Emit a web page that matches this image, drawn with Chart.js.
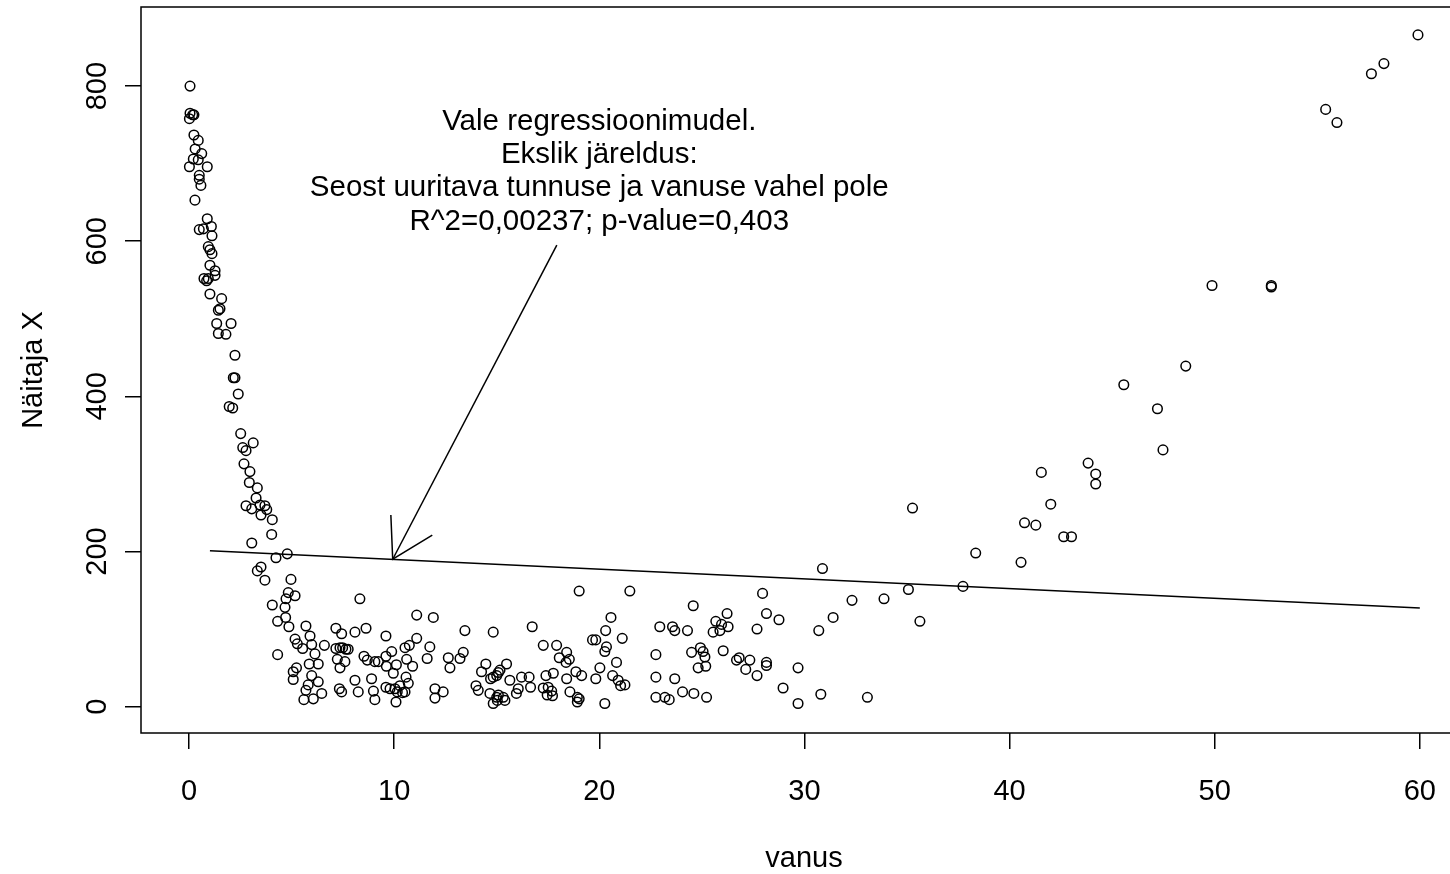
<!DOCTYPE html>
<html>
<head>
<meta charset="utf-8">
<script src="https://cdn.jsdelivr.net/npm/chart.js@4"></script>
<style>
  html, body { margin: 0; padding: 0; background: #fff; overflow: hidden; }
  #wrap { width: 1450px; height: 874px; overflow: hidden; }
</style>
</head>
<body>
<div id="wrap"><canvas id="myChart" width="1480" height="874"></canvas></div>
<script>
// vanus (age) and Näitaja X
const ages = [
  0.05, 0.05, 0.18, 0.02, 0.24, 0.24, 0.45, 0.30, 0.62, 0.21, 0.45, 0.02, 0.89,
  0.50, 0.50, 0.58, 0.29, 0.89, 0.50, 0.70, 1.09, 1.12, 0.94, 1.02, 1.12, 1.02,
  1.27, 1.27, 0.73, 0.86, 0.94, 1.02, 1.59, 1.51, 1.43, 1.35, 2.05, 1.43, 1.80,
  2.24, 2.16, 2.24, 2.40,
  1.96, 2.13, 2.52, 2.62, 2.78, 3.13, 2.68, 2.97, 2.94, 3.33, 3.27, 2.78, 3.06,
  3.46, 3.70, 3.79, 3.51, 4.06, 4.03, 3.06, 4.24, 4.79, 3.51, 3.33, 3.70, 4.97,
  4.84, 5.17, 4.73, 4.68, 4.06, 4.71, 4.32, 4.87, 5.70, 5.17, 5.28, 5.54, 5.90,
  5.98, 6.14, 4.32, 5.86, 6.30, 5.24, 5.08, 5.08, 5.98, 6.30, 5.81, 5.70, 5.60,
  6.06,
  8.33, 11.10, 11.91, 7.16, 7.44, 8.09, 8.63, 9.60, 13.45, 14.83, 6.60, 7.16,
  7.36, 7.49, 7.65, 7.76, 7.23, 7.60, 7.36, 8.53, 8.69, 9.06, 9.23, 9.60, 9.88,
  10.11, 9.62, 9.96, 10.53, 10.74, 11.10, 10.61, 10.90, 11.74, 11.61, 12.64,
  12.72, 13.21, 13.37, 14.47, 14.26, 14.83, 15.08, 14.70, 8.09, 8.90, 8.25, 8.99,
  9.06, 7.33, 7.44, 9.60, 9.80, 10.04, 10.28, 10.58, 10.69, 10.15, 10.41, 10.53,
  10.09, 11.99, 12.39, 11.99, 13.99, 14.10, 14.67, 14.83, 15.00, 15.08, 6.47,
  19.02, 21.49, 24.58, 16.73, 20.57, 20.31, 21.12, 19.67, 19.83, 20.35, 20.27,
  20.84, 20.03, 19.83, 20.65, 20.92, 21.04, 21.25, 22.95, 23.57, 23.68, 24.30,
  22.76, 24.50, 24.93, 25.06, 25.15, 24.82, 25.19, 22.76, 23.68, 22.76, 23.20,
  23.41, 24.06, 24.61, 25.23, 17.27, 17.92, 18.41, 18.05, 18.54, 18.38, 18.86,
  19.14, 18.41, 17.40, 17.76, 17.27, 17.51, 17.68, 17.46, 17.72, 18.57, 18.93,
  19.02, 18.93, 15.48, 15.16, 15.00, 15.64, 16.05, 16.21, 16.58, 16.65, 15.96,
  15.32, 15.40, 15.03, 20.27,
  30.88, 27.96, 32.32, 33.88, 35.07, 35.63, 31.40, 30.70, 26.23, 28.15, 28.76,
  27.69, 25.68, 25.96, 26.28, 25.55, 25.88, 26.04, 26.69, 26.82, 27.34, 27.14,
  27.69, 28.15, 28.15, 29.69, 28.96, 29.69, 30.80, 33.07,
  35.27, 38.35, 37.73, 40.56, 40.73, 41.28, 41.55, 42.01, 42.64, 43.02, 43.83,
  44.20, 44.20, 47.48,
  59.91, 58.25, 57.64, 55.41, 55.96, 49.87, 52.76, 52.76, 48.59, 45.57, 47.21
];
const values = [
  800, 765, 763, 758, 763, 737, 730, 719, 713, 706, 705, 696, 696,
  685, 680, 672, 653, 629, 615, 616, 619, 607, 593, 589, 584, 569,
  562, 556, 552, 549, 552, 532, 526, 513, 511, 494, 494, 481, 480,
  453, 424, 424, 403,
  387, 385, 352, 334, 330, 340, 313, 303, 289, 282, 269, 259, 255,
  260, 259, 254, 247, 241, 222, 211, 192, 197, 180, 175, 163, 164,
  147, 143, 139, 128, 131, 115, 110, 103, 104, 87, 81, 75, 91,
  80, 68, 67, 55, 55, 50, 45, 35, 40, 32, 28, 21, 9,
  10,
  139, 118, 115, 101, 94, 96, 101, 91, 98, 96, 79, 75,
  76, 76, 74, 74, 61, 58, 50, 65, 60, 58, 58, 65, 71,
  54, 52, 43, 76, 79, 88, 61, 52, 77, 62, 63,
  50, 62, 70, 55, 45, 38, 44, 36, 34, 36, 19, 20,
  9, 23, 19, 25, 23, 23, 27, 38, 30, 19, 18, 19,
  6, 23, 19, 11, 27, 21, 17, 4, 12, 15, 17,
  149, 149, 130, 103, 115, 98, 88, 86, 86, 77, 71,
  57, 50, 36, 40, 34, 27, 28, 103, 103, 98, 98,
  67, 70, 76, 71, 64, 50, 52, 38, 36, 12, 12,
  9, 19, 17, 12, 79, 79, 70, 63, 61, 57, 45,
  40, 36, 40, 43, 24, 25, 20, 15, 14, 19, 12,
  10, 6, 55, 47, 40, 34, 23, 38, 38, 25, 17,
  12, 8, 8, 4,
  178, 146, 137, 139, 151, 110, 115, 98, 120, 120, 112,
  100, 110, 106, 103, 96, 98, 72, 60, 63, 60, 48,
  40, 57, 53, 50, 24, 4, 16, 12,
  256, 198, 155, 186, 237, 234, 302, 261, 219, 219, 314,
  300, 287, 331,
  866, 829, 816, 770, 753, 543, 543, 541, 439, 415, 384
];

// fitted regression line (ends)
const fitAges = [1.02, 60];
const fitValues = [201, 127];

// arrow: shaft from text to line, and the head
const arrowAges = [17.93, 9.93];
const arrowValues = [595, 190];
const headAges = [9.84, 9.93, 11.86];
const headValues = [247, 190, 221];

const noteLines = [
  'Vale regressioonimudel.',
  'Ekslik järeldus:',
  'Seost uuritava tunnuse ja vanuse vahel pole',
  'R^2=0,00237; p-value=0,403'
];
const noteAt = [20, 690];

const xTicks = [0, 10, 20, 30, 40, 50, 60];
const yTicks = [0, 200, 400, 600, 800];

const FONT = 'Liberation Sans, Arial, sans-serif';

function pairs(xs, ys) {
  return xs.map(function(x, i) { return { x: x, y: ys[i] }; });
}

// R-like box round the plot region, plus the multi-line note
const boxPlugin = {
  id: 'rbox',
  beforeDatasetsDraw(chart) {
    const a = chart.chartArea;
    const ctx = chart.ctx;
    ctx.save();
    ctx.strokeStyle = '#000';
    ctx.lineWidth = 1.5;
    ctx.strokeRect(a.left, a.top, a.right - a.left, a.bottom - a.top);
    ctx.restore();
  },
  afterDatasetsDraw(chart) {
    const ctx = chart.ctx;
    const xs = chart.scales.x, ys = chart.scales.y;
    const cx = xs.getPixelForValue(noteAt[0]);
    const cy = ys.getPixelForValue(noteAt[1]);
    const lh = 33.3;
    ctx.save();
    ctx.fillStyle = '#000';
    ctx.font = '29.5px ' + FONT;
    ctx.textAlign = 'center';
    ctx.textBaseline = 'middle';
    noteLines.forEach(function(t, i) {
      ctx.fillText(t, cx, cy + (i - (noteLines.length - 1) / 2) * lh);
    });
    ctx.restore();
  }
};

const ctx = document.getElementById('myChart').getContext('2d');

const lineStyle = {
  showLine: true,
  borderColor: '#000',
  borderWidth: 1.5,
  pointRadius: 0,
  fill: false,
  tension: 0
};

function noPad(s) {
  s.paddingTop = 0;
  s.paddingBottom = 0;
  s.paddingLeft = 0;
  s.paddingRight = 0;
}

new Chart(ctx, {
  type: 'scatter',
  data: {
    datasets: [
      {
        data: pairs(ages, values),
        pointStyle: 'circle',
        pointRadius: 4.8,
        pointBorderWidth: 1.5,
        pointBorderColor: '#000',
        pointBackgroundColor: 'rgba(0,0,0,0)',
        showLine: false
      },
      Object.assign({ data: pairs(fitAges, fitValues) }, lineStyle),
      Object.assign({ data: pairs(arrowAges, arrowValues) }, lineStyle),
      Object.assign({ data: pairs(headAges, headValues) }, lineStyle)
    ]
  },
  options: {
    responsive: false,
    devicePixelRatio: 1,
    animation: false,
    events: [],
    layout: { padding: { top: 7, right: 13, left: 0, bottom: 0 } },
    scales: {
      x: {
        type: 'linear',
        min: -2.34,
        max: 62.3,
        afterBuildTicks: function(s) { s.ticks = xTicks.map(function(v) { return { value: v }; }); },
        afterFit: function(s) { s.height = 141; noPad(s); },
        border: { display: false },
        grid: { drawOnChartArea: false, drawTicks: true, tickLength: 16, color: '#000', lineWidth: 1.5 },
        ticks: { color: '#000', font: { family: FONT, size: 29 }, padding: 26, maxRotation: 0 },
        title: { display: true, text: 'vanus', color: '#000', font: { family: FONT, size: 29 }, padding: { top: 0, bottom: -2 } }
      },
      y: {
        type: 'linear',
        min: -34,
        max: 902,
        afterBuildTicks: function(s) { s.ticks = yTicks.map(function(v) { return { value: v }; }); },
        afterFit: function(s) { s.width = 141; noPad(s); },
        border: { display: false },
        grid: { drawOnChartArea: false, drawTicks: true, tickLength: 16, color: '#000', lineWidth: 1.5 },
        ticks: { color: '#000', font: { family: FONT, size: 29 }, padding: 3, minRotation: 90, maxRotation: 90, crossAlign: 'center' },
        title: { display: true, text: 'Näitaja X', color: '#000', font: { family: FONT, size: 29 }, padding: { top: 17, bottom: 0 } }
      }
    },
    plugins: {
      legend: { display: false },
      tooltip: { enabled: false }
    }
  },
  plugins: [boxPlugin]
});
</script>
</body>
</html>
